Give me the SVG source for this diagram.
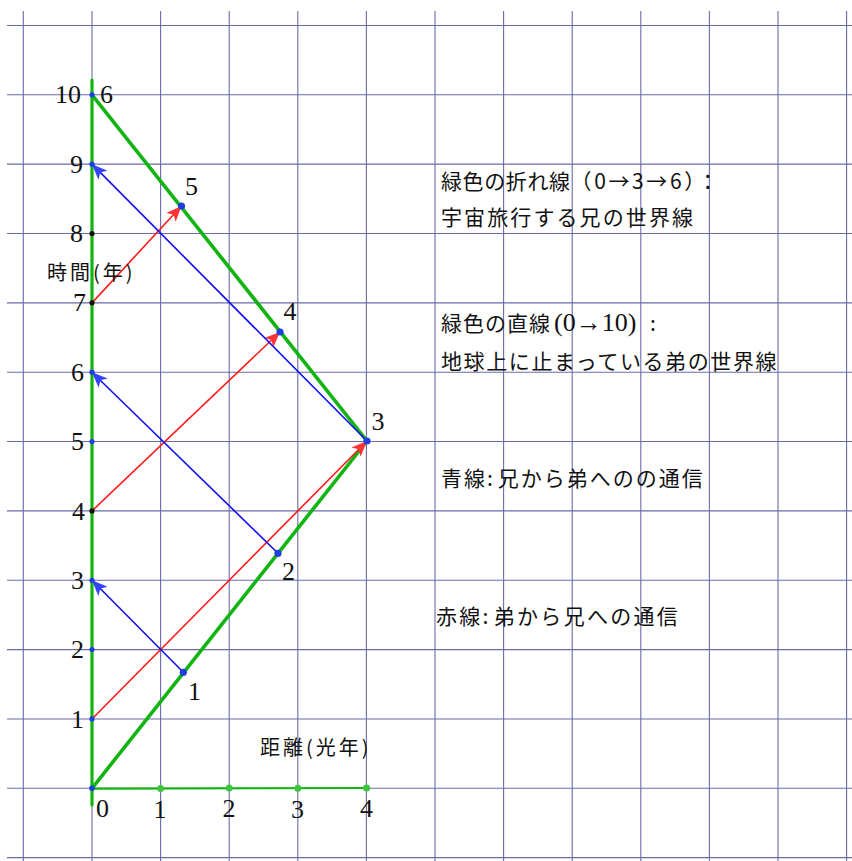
<svg xmlns="http://www.w3.org/2000/svg" width="852" height="861" viewBox="0 0 852 861">
<defs>
<style>
.grid line{stroke:#6b6bab;stroke-width:1.1}
.num{font-family:"Liberation Serif","Times New Roman",serif;font-size:26px;fill:#111}
.jp{font-family:"Noto Sans CJK JP","Noto Sans",sans-serif;font-size:21px;fill:#111}
.ax{font-family:"Noto Sans CJK JP","Noto Sans",sans-serif;font-size:20px;fill:#111;letter-spacing:3px}
.ser{font-family:"Liberation Serif","Times New Roman",serif;font-size:26px}
.green{stroke:#11b411;fill:none;stroke-linecap:round;stroke-linejoin:round}
.red{stroke:#ff1a1a;stroke-width:1.6;fill:none;marker-end:url(#ar)}
.blue{stroke:#1010ee;stroke-width:1.6;fill:none;marker-end:url(#ab)}
.bd{fill:#1f3fe0}
.kd{fill:#111}
.gd{fill:#3cc43c}
</style>
<marker id="ar" viewBox="0 0 12 10" refX="12" refY="5" markerWidth="16" markerHeight="13" markerUnits="userSpaceOnUse" orient="auto"><path d="M0,0 L12,5 L0,10 L3,5 Z" fill="#ff3333"/></marker>
<marker id="ab" viewBox="0 0 12 10" refX="12" refY="5" markerWidth="16" markerHeight="13" markerUnits="userSpaceOnUse" orient="auto"><path d="M0,0 L12,5 L0,10 L3,5 Z" fill="#3344ff"/></marker>
</defs>
<rect width="852" height="861" fill="#fff"/>
<g id="grid" class="grid">
<line x1="23.3" y1="11" x2="23.3" y2="861"/>
<line x1="92" y1="11" x2="92" y2="861"/>
<line x1="160.6" y1="11" x2="160.6" y2="861"/>
<line x1="229.2" y1="11" x2="229.2" y2="861"/>
<line x1="297.8" y1="11" x2="297.8" y2="861"/>
<line x1="366.4" y1="11" x2="366.4" y2="861"/>
<line x1="435" y1="11" x2="435" y2="861"/>
<line x1="503.6" y1="11" x2="503.6" y2="861"/>
<line x1="572.2" y1="11" x2="572.2" y2="861"/>
<line x1="640.8" y1="11" x2="640.8" y2="861"/>
<line x1="709.4" y1="11" x2="709.4" y2="861"/>
<line x1="778" y1="11" x2="778" y2="861"/>
<line x1="846.6" y1="11" x2="846.6" y2="861"/>
<line x1="7" y1="25.45" x2="852" y2="25.45"/>
<line x1="7" y1="94.8" x2="852" y2="94.8"/>
<line x1="7" y1="164.15" x2="852" y2="164.15"/>
<line x1="7" y1="233.5" x2="852" y2="233.5"/>
<line x1="7" y1="302.85" x2="852" y2="302.85"/>
<line x1="7" y1="372.2" x2="852" y2="372.2"/>
<line x1="7" y1="441.55" x2="852" y2="441.55"/>
<line x1="7" y1="510.9" x2="852" y2="510.9"/>
<line x1="7" y1="580.25" x2="852" y2="580.25"/>
<line x1="7" y1="649.6" x2="852" y2="649.6"/>
<line x1="7" y1="718.95" x2="852" y2="718.95"/>
<line x1="7" y1="788.3" x2="852" y2="788.3"/>
<line x1="7" y1="857.65" x2="852" y2="857.65"/>
</g>
<g id="connectors">
<line id="earth-worldline" class="green" x1="92" y1="80" x2="92" y2="805" stroke-width="3.2"/>
<polyline id="traveler-worldline" class="green" points="92,788.3 367,441 92,94.8" stroke-width="3.6"/>
<line id="distance-axis" class="green" x1="92" y1="788.6" x2="366.6" y2="788" stroke-width="2.2" stroke="#33bf33"/>
<line class="red" x1="92" y1="718.95" x2="367" y2="441"/>
<line class="red" x1="92" y1="510.9" x2="280" y2="332"/>
<line class="red" x1="92" y1="302.85" x2="181.5" y2="206"/>
<line class="blue" x1="183.3" y1="672.3" x2="92" y2="580.25"/>
<line class="blue" x1="278" y1="553.3" x2="92" y2="372.2"/>
<line class="blue" x1="367" y1="441" x2="92" y2="164.15"/>
</g>
<g id="time-axis-ticks">
<circle class="bd" cx="92" cy="788.3" r="2.8"/>
<circle class="bd" cx="92" cy="718.95" r="2.6"/>
<circle class="bd" cx="92" cy="649.6" r="2.6"/>
<circle class="bd" cx="92" cy="580.25" r="2.6"/>
<circle class="kd" cx="92" cy="510.9" r="2.6"/>
<circle class="bd" cx="92" cy="441.55" r="2.6"/>
<circle class="bd" cx="92" cy="372.2" r="2.6"/>
<circle class="kd" cx="92" cy="302.85" r="2.6"/>
<circle class="kd" cx="92" cy="233.5" r="2.6"/>
<circle class="bd" cx="92" cy="164.15" r="2.6"/>
<circle class="bd" cx="92" cy="94.8" r="2.6"/>
<text class="num" x="84" y="728" text-anchor="end">1</text>
<text class="num" x="84" y="658" text-anchor="end">2</text>
<text class="num" x="84" y="589" text-anchor="end">3</text>
<text class="num" x="85" y="520" text-anchor="end">4</text>
<text class="num" x="84" y="450" text-anchor="end">5</text>
<text class="num" x="84" y="381" text-anchor="end">6</text>
<text class="num" x="86" y="311" text-anchor="end">7</text>
<text class="num" x="83" y="242" text-anchor="end">8</text>
<text class="num" x="83" y="173" text-anchor="end">9</text>
<text class="num" x="81" y="103" text-anchor="end">10</text>
</g>
<g id="distance-axis-ticks">
<circle class="gd" cx="160.6" cy="788.5" r="3.5"/>
<circle class="gd" cx="229.2" cy="788" r="3.5"/>
<circle class="gd" cx="297.8" cy="788.2" r="3.5"/>
<circle class="gd" cx="366.6" cy="788" r="3.5"/>
<text class="num" x="102.5" y="817" text-anchor="middle">0</text>
<text class="num" x="160" y="818" text-anchor="middle">1</text>
<text class="num" x="229" y="817" text-anchor="middle">2</text>
<text class="num" x="297.5" y="818" text-anchor="middle">3</text>
<text class="num" x="366.5" y="817" text-anchor="middle">4</text>
</g>
<g id="event-1"><circle class="bd" cx="183.3" cy="672.3" r="3.6"/><text class="num" x="194.5" y="700" text-anchor="middle">1</text></g>
<g id="event-2"><circle class="bd" cx="278" cy="553.3" r="3.6"/><text class="num" x="288.5" y="580" text-anchor="middle">2</text></g>
<g id="event-3"><circle class="bd" cx="367" cy="441" r="3.6"/><text class="num" x="378" y="430" text-anchor="middle">3</text></g>
<g id="event-4"><circle class="bd" cx="280" cy="332" r="3.6"/><text class="num" x="290" y="320" text-anchor="middle">4</text></g>
<g id="event-5"><circle class="bd" cx="181.5" cy="206" r="3.6"/><text class="num" x="191.5" y="195" text-anchor="middle">5</text></g>
<g id="event-6"><text class="num" x="106.5" y="103" text-anchor="middle">6</text></g>
<g id="labels">
<text class="ax" x="47" y="280">時間(年)</text>
<text class="ax" x="260" y="755">距離(光年)</text>
<text class="jp" x="441" y="189" style="letter-spacing:0.6px">緑色の折れ線<tspan style="letter-spacing:2.6px">（0→3→6）：</tspan></text>
<text class="jp" x="441" y="225" style="letter-spacing:2.1px">宇宙旅行する兄の世界線</text>
<text class="jp" x="441" y="331" style="letter-spacing:1px">緑色の直線</text>
<text class="jp" x="554" y="331"><tspan class="ser">(0→10)</tspan></text>
<text class="jp" x="650" y="331">:</text>
<text class="jp" x="441" y="369" style="letter-spacing:1.6px">地球上に止まっている弟の世界線</text>
<text class="jp" x="441" y="486" style="letter-spacing:2px">青線:<tspan dx="3">兄から弟へのの通信</tspan></text>
<text class="jp" x="436" y="624" style="letter-spacing:2.3px">赤線:<tspan dx="3">弟から兄への通信</tspan></text>
</g>
</svg>
